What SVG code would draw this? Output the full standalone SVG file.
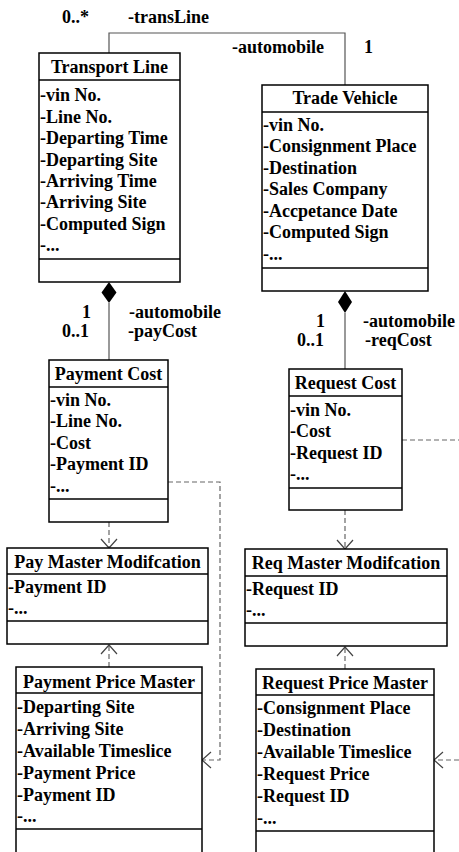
<svg xmlns="http://www.w3.org/2000/svg" width="459" height="852" viewBox="0 0 459 852">
<style>
text{font-family:"Liberation Serif","Times New Roman",serif;font-weight:bold;font-size:18px;fill:#000}
.t{text-anchor:middle}
.box{fill:#fff;stroke:#000;stroke-width:1.5}
.sep{stroke:#000;stroke-width:1.5}
.con{fill:none;stroke:#555;stroke-width:1.2}
.dash{fill:none;stroke:#666;stroke-width:1.2;stroke-dasharray:5,3}
.arr{fill:none;stroke:#444;stroke-width:1.2}
</style>
<rect width="459" height="852" fill="#fff"/>
<g id="connectors">
<polyline class="con" points="109,53 109,33 345,33 345,85"/>
<line class="con" x1="109" y1="303" x2="109" y2="360"/>
<polygon points="109,282 116.5,292.5 109,303 101.5,292.5" fill="#000"/>
<line class="con" x1="345" y1="313" x2="345" y2="369"/>
<polygon points="345,291 352,302 345,313 338,302" fill="#000"/>
<line class="dash" x1="109" y1="522" x2="109" y2="548"/>
<polyline class="arr" points="101,539 109,548 117,539"/>
<line class="dash" x1="109" y1="667" x2="109" y2="645"/>
<polyline class="arr" points="101,654 109,645 117,654"/>
<line class="dash" x1="345" y1="510" x2="345" y2="549"/>
<polyline class="arr" points="337,540 345,549 353,540"/>
<line class="dash" x1="345" y1="669" x2="345" y2="647"/>
<polyline class="arr" points="337,656 345,647 353,656"/>
<polyline class="dash" points="168,482 220,482 220,760 202,760"/>
<polyline class="arr" points="211,752 202,760 211,768"/>
<line class="dash" x1="402" y1="440" x2="459" y2="440"/>
<line class="dash" x1="459" y1="760" x2="434" y2="760"/>
<polyline class="arr" points="443,752 434,760 443,768"/>
<text x="62" y="23">0..*</text>
<text x="128" y="23">-transLine</text>
<text x="232" y="53">-automobile</text>
<text x="364" y="53">1</text>
<text x="82" y="318">1</text>
<text x="62" y="337">0..1</text>
<text x="129" y="318">-automobile</text>
<text x="128" y="337">-payCost</text>
<text x="316" y="327">1</text>
<text x="297" y="346">0..1</text>
<text x="363" y="327">-automobile</text>
<text x="365" y="346">-reqCost</text>
</g>
<g id="transport-line">
<rect class="box" x="39" y="53" width="141" height="229"/>
<line class="sep" x1="39" y1="80" x2="180" y2="80"/>
<line class="sep" x1="39" y1="259" x2="180" y2="259"/>
<text class="t" x="109.5" y="73">Transport Line</text>
<text x="40" y="101">-vin No.</text>
<text x="40" y="123">-Line No.</text>
<text x="40" y="144">-Departing Time</text>
<text x="40" y="166">-Departing Site</text>
<text x="40" y="187">-Arriving Time</text>
<text x="40" y="208">-Arriving Site</text>
<text x="40" y="230">-Computed Sign</text>
<text x="40" y="251">-...</text>
</g>
<g id="trade-vehicle">
<rect class="box" x="262" y="85" width="166" height="206"/>
<line class="sep" x1="262" y1="112" x2="428" y2="112"/>
<line class="sep" x1="262" y1="268" x2="428" y2="268"/>
<text class="t" x="345" y="104">Trade Vehicle</text>
<text x="263" y="131">-vin No.</text>
<text x="263" y="152">-Consignment Place</text>
<text x="263" y="174">-Destination</text>
<text x="263" y="195">-Sales Company</text>
<text x="263" y="217">-Accpetance Date</text>
<text x="263" y="238">-Computed Sign</text>
<text x="263" y="260">-...</text>
</g>
<g id="payment-cost">
<rect class="box" x="49" y="360" width="119" height="162"/>
<line class="sep" x1="49" y1="387" x2="168" y2="387"/>
<line class="sep" x1="49" y1="499" x2="168" y2="499"/>
<text class="t" x="108.5" y="380">Payment Cost</text>
<text x="50" y="406">-vin No.</text>
<text x="50" y="427">-Line No.</text>
<text x="50" y="449">-Cost</text>
<text x="50" y="470">-Payment ID</text>
<text x="50" y="492">-...</text>
</g>
<g id="request-cost">
<rect class="box" x="289" y="369" width="113" height="141"/>
<line class="sep" x1="289" y1="396" x2="402" y2="396"/>
<line class="sep" x1="289" y1="488" x2="402" y2="488"/>
<text class="t" x="345.5" y="389">Request Cost</text>
<text x="290" y="416">-vin No.</text>
<text x="290" y="437">-Cost</text>
<text x="290" y="459">-Request ID</text>
<text x="290" y="480">-...</text>
</g>
<g id="pay-master-modifcation">
<rect class="box" x="7" y="548" width="201" height="96"/>
<line class="sep" x1="7" y1="574" x2="208" y2="574"/>
<line class="sep" x1="7" y1="621" x2="208" y2="621"/>
<text class="t" x="107.5" y="568">Pay Master Modifcation</text>
<text x="8" y="593">-Payment ID</text>
<text x="8" y="614">-...</text>
</g>
<g id="req-master-modifcation">
<rect class="box" x="245" y="549" width="202" height="97"/>
<line class="sep" x1="245" y1="576" x2="447" y2="576"/>
<line class="sep" x1="245" y1="623" x2="447" y2="623"/>
<text class="t" x="346" y="569">Req Master Modifcation</text>
<text x="246" y="595">-Request ID</text>
<text x="246" y="616">-...</text>
</g>
<g id="payment-price-master">
<rect class="box" x="16" y="667" width="186" height="200"/>
<line class="sep" x1="16" y1="693" x2="202" y2="693"/>
<line class="sep" x1="16" y1="829" x2="202" y2="829"/>
<text class="t" x="109" y="688">Payment Price Master</text>
<text x="17" y="713">-Departing Site</text>
<text x="17" y="735">-Arriving Site</text>
<text x="17" y="757">-Available Timeslice</text>
<text x="17" y="779">-Payment Price</text>
<text x="17" y="801">-Payment ID</text>
<text x="17" y="822">-...</text>
</g>
<g id="request-price-master">
<rect class="box" x="256" y="669" width="178" height="200"/>
<line class="sep" x1="256" y1="695" x2="434" y2="695"/>
<line class="sep" x1="256" y1="831" x2="434" y2="831"/>
<text class="t" x="345" y="689">Request Price Master</text>
<text x="257" y="714">-Consignment Place</text>
<text x="257" y="736">-Destination</text>
<text x="257" y="758">-Available Timeslice</text>
<text x="257" y="780">-Request Price</text>
<text x="257" y="802">-Request ID</text>
<text x="257" y="824">-...</text>
</g>
</svg>
